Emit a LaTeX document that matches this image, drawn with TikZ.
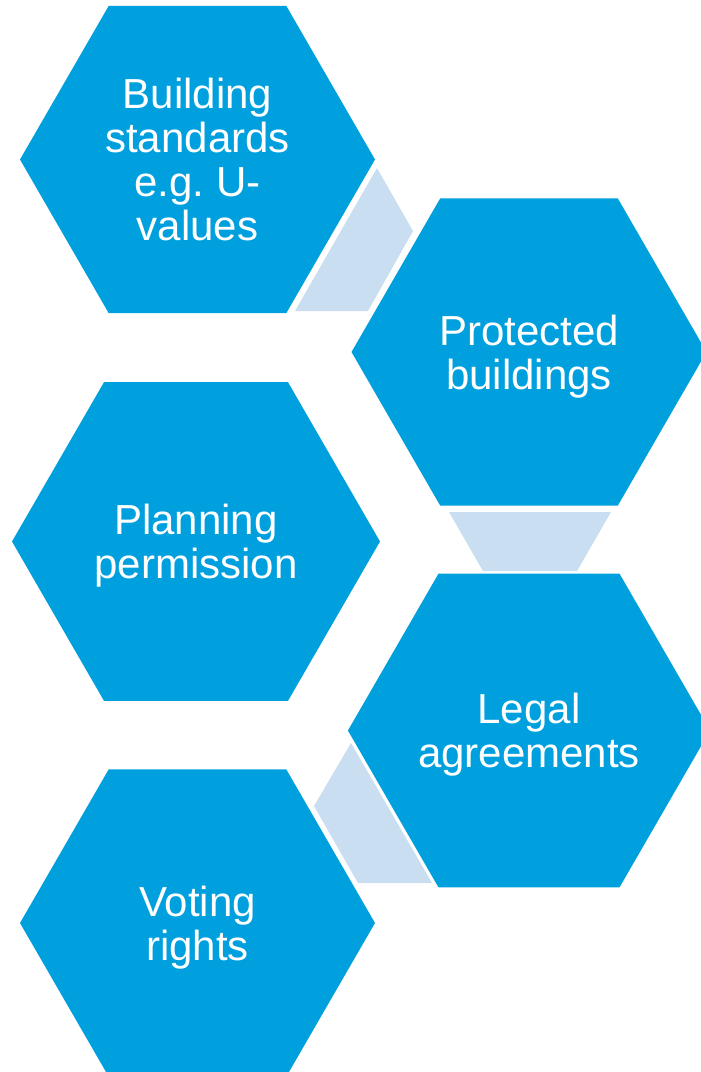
\documentclass[tikz,border=0pt]{standalone}
\usepackage{fontspec}
\setmainfont{Liberation Sans}
\usetikzlibrary{shapes.geometric}
\definecolor{hexblue}{RGB}{0,160,223}
\definecolor{linkblue}{RGB}{201,222,240}
\begin{document}
\begin{tikzpicture}
		[x=1pt,y=-1pt,
		hexa/.style={regular polygon, regular polygon sides=6,
			minimum size=355pt, inner sep=0pt, fill=hexblue,
			text=white, align=center, text depth=0pt,
			font=\fontsize{42}{44}\selectfont},
		link/.style={fill=linkblue}]
		\useasboundingbox (0,0) rectangle (701,1072);
		\fill[white] (0,0) rectangle (701,1072);
		\fill[link] (377,168) -- (413,231) -- (368,311) -- (295,311) -- cycle;
		\fill[link] (449,512) -- (611,512) -- (577,571) -- (483,571) -- cycle;
		\fill[link] (351,743) -- (314,806) -- (358,883) -- (432,883) -- cycle;
		\node[hexa] (build) at (197.5,159.5) {Building\\standards\\e.g.\ U-\\values};
		\node[hexa] (prot) at (529,352) {Protected\\buildings};
		\node[hexa, minimum size=368pt] (plan) at (196,541.5) {Planning\\permission};
		\node[hexa] (legal) at (529,730.5) {Legal\\agreements};
		\node[hexa] (vote) at (197.5,923) {Voting\\rights};
	\end{tikzpicture}
\end{document}
